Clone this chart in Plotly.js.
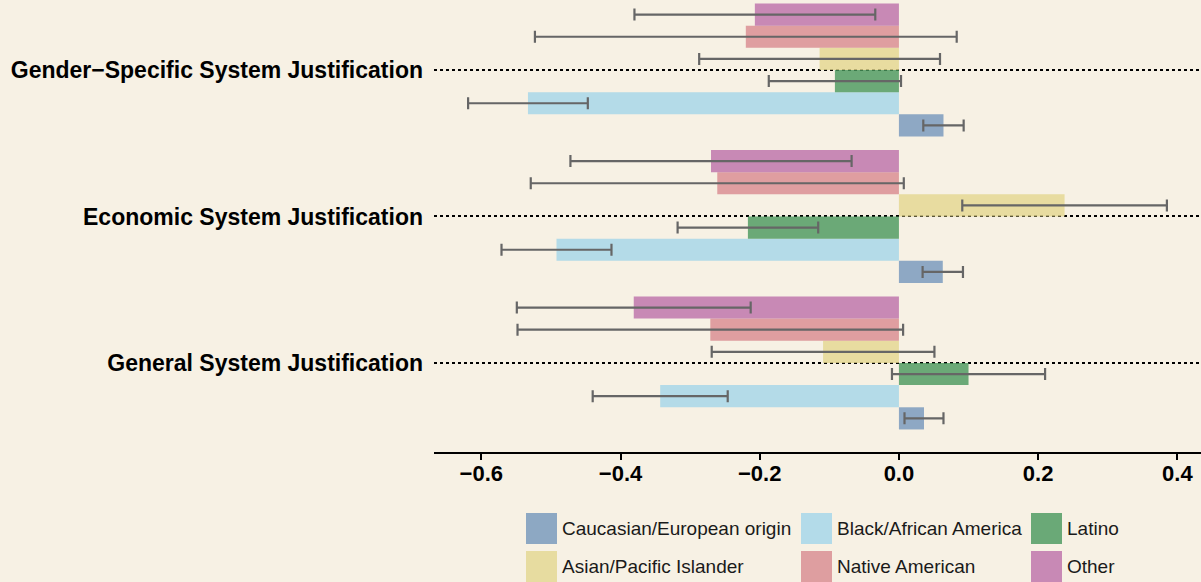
<!DOCTYPE html>
<html>
<head>
<meta charset="utf-8">
<script src="https://cdn.plot.ly/plotly-3.0.1.min.js"></script>
<style>html,body{margin:0;padding:0;background:#F7F1E4;}</style>
</head>
<body>
<div id="chart" style="width:1201px;height:582px;"></div>
<script>
// Categories (bottom to top)
const categories = ['General System Justification', 'Economic System Justification', 'Gender\u2212Specific System Justification'];

// Series names (drawn bottom to top within each group)
const seriesNames = ['Caucasian/European origin', 'Black/African America', 'Latino', 'Asian/Pacific Islander', 'Native American', 'Other'];

// Values per series, ordered as categories [General, Economic, Gender]
const caucasian = [0.036, 0.063, 0.064];
const black     = [-0.343, -0.492, -0.533];
const latino    = [0.100, -0.217, -0.092];
const asian     = [-0.109, 0.238, -0.114];
const native    = [-0.271, -0.261, -0.220];
const other     = [-0.381, -0.270, -0.207];

// Error half-widths
const caucasianErr = [0.028, 0.029, 0.029];
const blackErr     = [0.097, 0.079, 0.086];
const latinoErr    = [0.110, 0.101, 0.095];
const asianErr     = [0.160, 0.147, 0.173];
const nativeErr    = [0.277, 0.268, 0.303];
const otherErr     = [0.168, 0.202, 0.173];

const tickValues = [-0.6, -0.4, -0.2, 0.0, 0.2, 0.4];
const tickLabels = ['\u22120.6', '\u22120.4', '\u22120.2', '0.0', '0.2', '0.4'];

const values = [caucasian, black, latino, asian, native, other];
const errors = [caucasianErr, blackErr, latinoErr, asianErr, nativeErr, otherErr];
const colors = ['rgba(115,150,188,0.8)', 'rgba(162,214,233,0.8)', 'rgba(71,151,91,0.8)',
                'rgba(228,215,143,0.8)', 'rgba(216,137,143,0.8)', 'rgba(188,111,169,0.8)'];
const swatchColors = ['#8DA8C3', '#B3DBE9', '#6AA977', '#E7DCA0', '#DE9EA0', '#C889B5'];

const traces = seriesNames.map((name, i) => ({
  type: 'bar',
  orientation: 'h',
  name: name,
  y: categories,
  x: values[i],
  marker: {color: colors[i], line: {width: 0}},
  error_x: {type: 'data', array: errors[i], visible: true, color: '#666666', thickness: 2.2, width: 6},
  showlegend: false,
  hoverinfo: 'x+name'
}));

// Layout geometry (pixels)
const W = 1201, H = 582, L = 434, R = 0, T = 0, B = 130;
const pw = W - L - R, ph = H - T - B;
const px2x = p => (p - L) / pw;
const py2y = p => (H - B - p) / ph;

const legendCols = [526, 801, 1031];
const legendRows = [513, 551];
const sw = 31;
const shapes = [];
const annotations = [];
seriesNames.forEach((name, i) => {
  const col = i % 3, row = Math.floor(i / 3);
  const x0 = legendCols[col], y0 = legendRows[row];
  shapes.push({type: 'rect', xref: 'paper', yref: 'paper',
    x0: px2x(x0), x1: px2x(x0 + sw), y0: py2y(y0 + sw), y1: py2y(y0),
    fillcolor: swatchColors[i], line: {width: 0}, layer: 'above'});
  annotations.push({xref: 'paper', yref: 'paper', x: px2x(x0 + sw + 3), y: py2y(y0 + sw / 2),
    xanchor: 'left', yanchor: 'middle', showarrow: false, text: name,
    font: {family: 'Liberation Sans, Arial, sans-serif', size: 19, color: '#1a1a1a'}});
});

const layout = {
  width: W, height: H,
  margin: {l: L, r: R, t: T, b: B, pad: 0},
  paper_bgcolor: '#F7F1E4',
  plot_bgcolor: '#F7F1E4',
  barmode: 'group',
  bargap: 0.092,
  bargroupgap: 0,
  xaxis: {
    range: [-0.668, 0.434],
    tickvals: tickValues,
    ticktext: tickLabels,
    ticks: 'outside', ticklen: 6, tickwidth: 2, tickcolor: '#000',
    showline: true, linecolor: '#000', linewidth: 2,
    showgrid: false, zeroline: false,
    ticklabelstandoff: -5,
    tickfont: {family: 'Liberation Sans, Arial, sans-serif', size: 22, color: '#000', weight: 'bold'}
  },
  yaxis: {
    type: 'category',
    categoryorder: 'array', categoryarray: categories,
    range: [-0.608, 2.478],
    showline: false, ticks: '', zeroline: false,
    showgrid: true, gridcolor: '#000', gridwidth: 2, griddash: 'dot',
    ticklabelstandoff: 10,
    tickfont: {family: 'Liberation Sans, Arial, sans-serif', size: 23, color: '#000', weight: 'bold'}
  },
  shapes: shapes,
  annotations: annotations,
  showlegend: false
};

Plotly.newPlot('chart', traces, layout, {displayModeBar: false, staticPlot: true});
</script>
</body>
</html>
